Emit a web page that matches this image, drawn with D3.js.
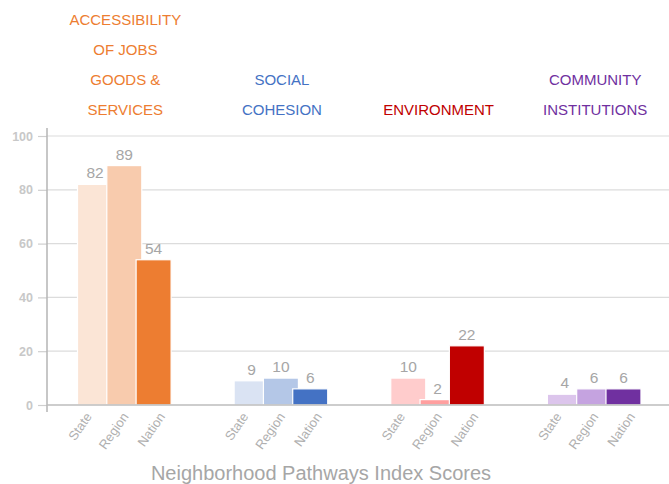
<!DOCTYPE html>
<html>
<head>
<meta charset="utf-8">
<script src="https://cdn.jsdelivr.net/npm/d3@7"></script>
<style>
  body { margin: 0; background: #fff; }
  svg { font-family: "Liberation Sans", Arial, sans-serif; display: block; }
</style>
</head>
<body>
<div id="chart"></div>
<script>
// Data
var categories = [
    ["ACCESSIBILITY", "OF JOBS", "GOODS &", "SERVICES"],
    ["SOCIAL", "COHESION"],
    ["ENVIRONMENT"],
    ["COMMUNITY", "INSTITUTIONS"]
];
var seriesNames = ["State", "Region", "Nation"];
var stateValues = [82, 9, 10, 4];
var regionValues = [89, 10, 2, 6];
var nationValues = [54, 6, 22, 6];
var yTicks = [0, 20, 40, 60, 80, 100];
var chartTitle = "Neighborhood Pathways Index Scores";

// colours per category: [title, State, Region, Nation]
var palette = [
    ["#ED7D31", "#FBE5D6", "#F8CBAD", "#ED7D31"],
    ["#4472C4", "#DAE3F3", "#B4C7E7", "#4472C4"],
    ["#C00000", "#FFCCCC", "#FF9F9F", "#C00000"],
    ["#7030A0", "#DCC5EC", "#C5A3E0", "#7030A0"]
];

var svgWidth = 669;
var svgHeight = 484;

var svg = d3.select("#chart")
    .append("svg")
    .attr("width", svgWidth)
    .attr("height", svgHeight);

var rows = [];
categories.forEach(function (c, i) {
    rows.push({ cat: i, series: 0, value: stateValues[i] });
    rows.push({ cat: i, series: 1, value: regionValues[i] });
    rows.push({ cat: i, series: 2, value: nationValues[i] });
});

// Scales
var xGroup = d3.scaleBand()
    .domain(d3.range(categories.length))
    .range([47, 673.5])
    .padding(0);

var step = 29.3;
var barWidth = 35;
var xInner = d3.scaleBand()
    .domain(d3.range(seriesNames.length))
    .range([30.5, 30.5 + step * 3])
    .padding(0);

// labels under the bars are spread wider than the bars
var xLabel = d3.scalePoint()
    .domain(d3.range(seriesNames.length))
    .range([-36.7, 36.7]);

var y = d3.scaleLinear()
    .domain([0, 100])
    .range([405, 136]);

// Gridlines
svg.append("g")
    .selectAll("line")
    .data(yTicks.filter(function (t) { return t > 0; }))
    .enter()
    .append("line")
    .attr("x1", 47)
    .attr("x2", svgWidth)
    .attr("y1", function (d) { return y(d); })
    .attr("y2", function (d) { return y(d); })
    .attr("stroke", "#dcdcdc")
    .attr("stroke-width", 1.2);

// Y axis
var yAxis = d3.axisLeft(y).tickValues(yTicks).tickSize(9).tickPadding(5);
var yAxisG = svg.append("g")
    .attr("transform", "translate(47,0)")
    .call(yAxis);
yAxisG.select(".domain").remove();
yAxisG.selectAll(".tick line").attr("stroke", "#cfcfcf").attr("stroke-width", 1.2);
yAxisG.selectAll(".tick text")
    .attr("fill", "#c8c8c8")
    .attr("font-size", 12.5)
    .attr("font-weight", "bold")
    .attr("font-family", "\"Liberation Sans\", Arial, sans-serif");

svg.append("line")
    .attr("x1", 47).attr("x2", 47)
    .attr("y1", 128).attr("y2", 412)
    .attr("stroke", "#b4b4b4")
    .attr("stroke-width", 1.5);

// Bars
var bars = svg.append("g");
bars.selectAll("rect")
    .data(rows)
    .enter()
    .append("rect")
    .attr("x", function (d) { return xGroup(d.cat) + xInner(d.series); })
    .attr("y", function (d) { return y(d.value); })
    .attr("width", barWidth)
    .attr("height", function (d) { return y(0) - y(d.value); })
    .attr("fill", function (d) { return palette[d.cat][d.series + 1]; })
    .attr("stroke", "#fff")
    .attr("stroke-width", 1.2);

// baseline
svg.append("line")
    .attr("x1", 47).attr("x2", svgWidth)
    .attr("y1", y(0)).attr("y2", y(0))
    .attr("stroke", "#bdbdbd")
    .attr("stroke-width", 1.5);

// Value labels
svg.append("g")
    .selectAll("text")
    .data(rows)
    .enter()
    .append("text")
    .attr("x", function (d) { return xGroup(d.cat) + xInner(d.series) + barWidth / 2; })
    .attr("y", function (d) { return y(d.value) - 6; })
    .attr("text-anchor", "middle")
    .attr("font-size", 15.5)
    .attr("fill", "#a6a6a6")
    .text(function (d) { return d.value; });

// Series labels under bars
svg.append("g")
    .selectAll("text")
    .data(rows)
    .enter()
    .append("text")
    .attr("transform", function (d) {
        var cx = xGroup(d.cat) + xGroup.bandwidth() / 2 + xLabel(d.series);
        return "translate(" + cx + ",414)rotate(-55)";
    })
    .attr("text-anchor", "end")
    .attr("dy", "0.35em")
    .attr("font-size", 13)
    .attr("fill", "#b0b0b0")
    .text(function (d) { return seriesNames[d.series]; });

// Category titles (bottom aligned)
categories.forEach(function (lines, i) {
    var cx = xGroup(i) + xGroup.bandwidth() / 2;
    var t = svg.append("text")
        .attr("text-anchor", "middle")
        .attr("font-size", 15)
        .attr("fill", palette[i][0]);
    lines.forEach(function (line, j) {
        t.append("tspan")
            .attr("x", cx)
            .attr("y", 115 - (lines.length - 1 - j) * 30)
            .text(line);
    });
});

// Chart title
svg.append("text")
    .attr("x", 321)
    .attr("y", 480)
    .attr("text-anchor", "middle")
    .attr("font-size", 20)
    .attr("fill", "#a6a6a6")
    .text(chartTitle);
</script>
</body>
</html>
